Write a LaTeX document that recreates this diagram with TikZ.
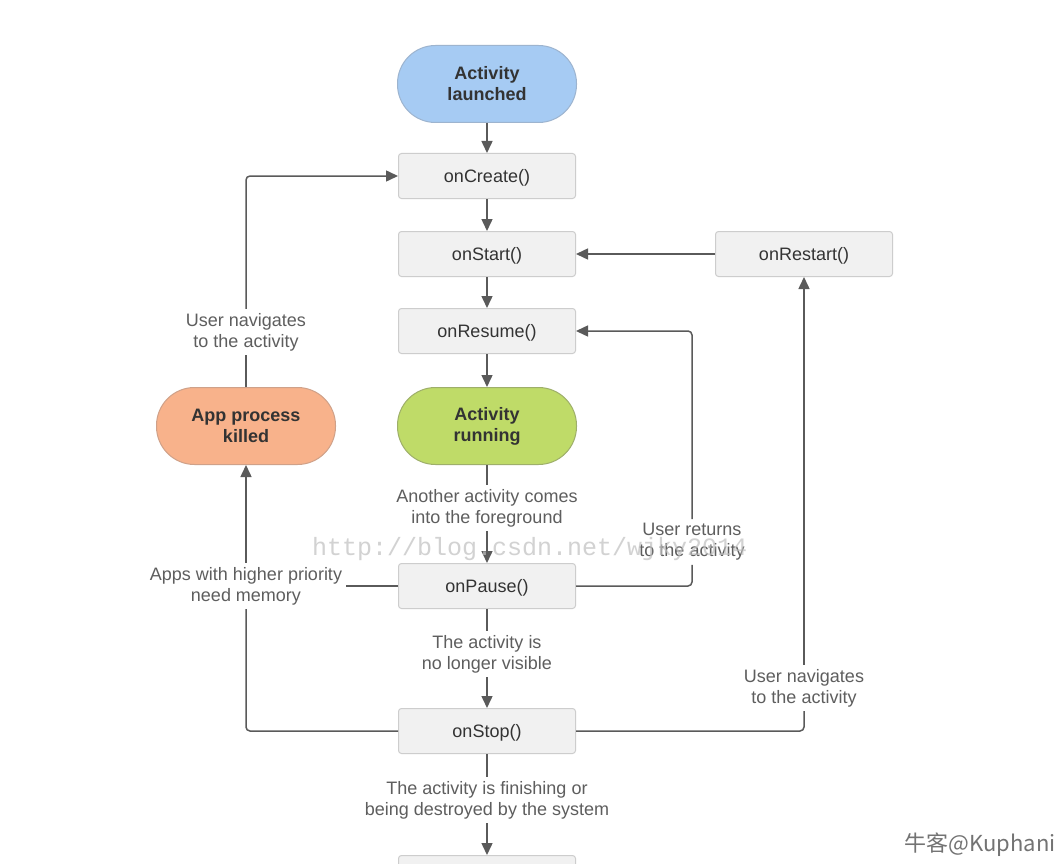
\documentclass[tikz,border=0pt]{standalone}
\usepackage{fontspec}
\setmainfont{Liberation Sans}
\newfontfamily\cjkfont{Noto Sans CJK SC}
\newfontfamily\wmfont{Liberation Mono}
\usetikzlibrary{arrows.meta}
\definecolor{linec}{HTML}{5A5A5A}
\definecolor{boxborder}{HTML}{CDCDCD}
\definecolor{boxfill}{HTML}{F1F1F1}
\definecolor{nodetext}{HTML}{333333}
\definecolor{labeltext}{HTML}{5E5E5E}
\definecolor{bluefill}{HTML}{A6CBF3}
\definecolor{blueborder}{HTML}{9DB4CF}
\definecolor{greenfill}{HTML}{BFDB68}
\definecolor{greenborder}{HTML}{9EAF6A}
\definecolor{orangefill}{HTML}{F8B28B}
\definecolor{orangeborder}{HTML}{CFA189}
\begin{document}
\begin{tikzpicture}[x=1pt,y=-1pt,
  box/.style={draw=boxborder, line width=1pt, fill=boxfill, rounded corners=3pt,
    minimum width=177pt, minimum height=45pt, inner sep=0pt, text=nodetext,
    text height=13.1pt, text depth=0pt,
    font=\fontsize{18}{21}\selectfont},
  stadium/.style={line width=1pt, rounded corners=38pt, minimum width=179pt,
    minimum height=77pt, inner sep=0pt, align=center, text=nodetext,
    font=\bfseries\fontsize{18}{21}\selectfont},
  lbl/.style={align=center, text=labeltext, font=\fontsize{18}{21}\selectfont, inner sep=4pt},
  conn/.style={draw=linec, line width=1.5pt, rounded corners=4pt},
  arr/.style={conn, -{Triangle[length=12pt,width=11pt]}}]
\clip (0,0) rectangle (1063,864);
\fill[white] (0,0) rectangle (1063,864);

% nodes
\node[stadium, draw=blueborder, fill=bluefill] (launched) at (487,84) {Activity\\launched};
\node[box] (create) at (487,176) {onCreate()};
\node[box] (start) at (487,254) {onStart()};
\node[box] (resume) at (487,331) {onResume()};
\node[stadium, draw=greenborder, fill=greenfill] (running) at (487,426) {Activity\\running};
\node[box] (pause) at (487,586) {onPause()};
\node[box] (stop) at (487,731) {onStop()};
\node[box] (destroy) at (487,878) {};
\node[box] (restart) at (804,254) {onRestart()};
\node[stadium, draw=orangeborder, fill=orangefill] (killed) at (246,426) {App process\\killed};

% labels
\node[lbl] (fore) at (487,508) {Another activity comes\\into the foreground};
\node[lbl] (invis) at (487,654) {The activity is\\no longer visible};
\node[lbl] (finish) at (487,800) {The activity is finishing or\\being destroyed by the system};
\node[lbl] (nav2) at (804,688) {User navigates\\to the activity};
\node[lbl] (ret) at (692,542) {User returns\\to the activity};
\node[lbl] (mem) at (246,586) {Apps with higher priority\\need memory};
\node[lbl] (nav1) at (246,332) {User navigates\\to the activity};

% connectors
\draw[arr] (launched.south) -- (create.north);
\draw[arr] (create.south) -- (start.north);
\draw[arr] (start.south) -- (resume.north);
\draw[arr] (resume.south) -- (running.north);
\draw[conn] (running.south) -- (fore.north);
\draw[arr] (fore.south) -- (pause.north);
\draw[conn] (pause.south) -- (invis.north);
\draw[arr] (invis.south) -- (stop.north);
\draw[conn] (stop.south) -- (finish.north);
\draw[arr] (finish.south) -- (destroy.north);
\draw[arr] (restart.west) -- (start.east);
\draw[conn] (stop.east) -| (nav2.south);
\draw[arr] (nav2.north) -- (restart.south);
\draw[conn] (pause.east) -| (ret.south);
\draw[arr] (ret.north) |- (resume.east);
\draw[conn] (pause.west) -- (mem.east |- pause.west);
\draw[conn] (stop.west) -| (mem.south);
\draw[arr] (mem.north) -- (killed.south);
\draw[conn] (killed.north) -- (nav1.south);
\draw[arr] (nav1.north) |- (create.west);

% watermarks
\node[anchor=base west, inner sep=0pt, text=black!25, opacity=0.7,
  font=\wmfont\fontsize{25}{25}\selectfont] (wm) at (312,555) {http://blog.csdn.net/wjky2014};
\node[anchor=base east, inner sep=0pt, text=black!55,
  font=\cjkfont\fontsize{22}{22}\selectfont] (wm2) at (1056,851) {牛客@Kuphani};
\end{tikzpicture}
\end{document}
